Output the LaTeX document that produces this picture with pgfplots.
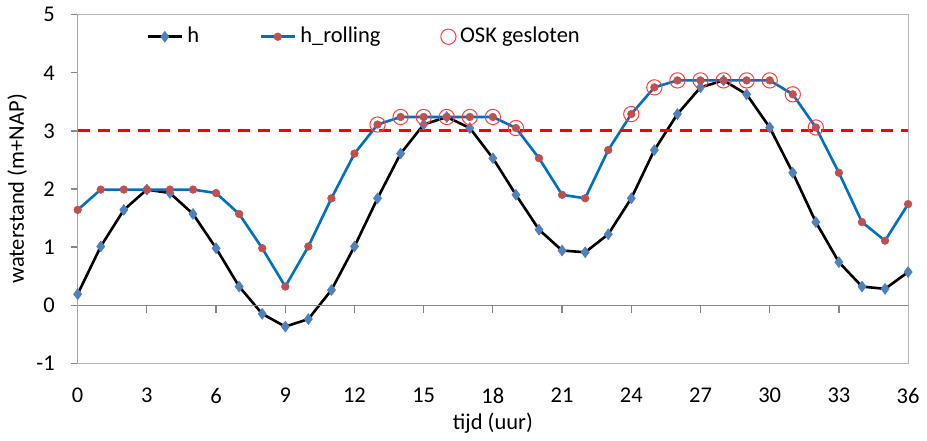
\documentclass[border=0pt]{standalone}
\usepackage{fontspec}
\setmainfont{Carlito}
\usepackage{pgfplots}
\pgfplotsset{compat=1.18}

\definecolor{hblue}{RGB}{79,129,189}
\definecolor{rollblue}{RGB}{0,112,192}
\definecolor{rollred}{RGB}{192,80,77}
\definecolor{oskred}{RGB}{255,60,60}
\definecolor{axgray}{RGB}{134,134,134}

\begin{document}
\fontsize{11.2}{13.5}\selectfont
\begin{tikzpicture}
  \begin{axis}[
    scale only axis,
    width=413.5pt,
    height=173.5pt,
    xmin=0, xmax=36,
    ymin=-1, ymax=5,
    xtick={0,3,...,36},
    ytick={-1,0,...,5},
    xtick style={draw=none},
    ytick pos=left,
    tick align=outside,
    major tick length=3.5pt,
    ytick style={axgray, line width=0.6pt},
    axis line style={axgray!60, line width=0.6pt},
    xticklabel style={yshift=-5pt},
    yticklabel style={xshift=-4pt},
    /pgf/number format/assume math mode=true,
    xlabel={tijd (uur)},
    ylabel={waterstand (m+NAP)},
    xlabel style={yshift=3pt},
    ylabel style={yshift=-3pt},
    legend columns=3,
    legend style={draw=none, fill=none, at={(0.075,0.937)}, anchor=west,
      /tikz/every even column/.append style={column sep=28pt}},
  ]

    % h
    \addplot[black, line width=1.3pt, mark=diamond*,
      mark options={hblue, fill=hblue, scale=1.35, line width=0.3pt}]
    coordinates {
      (0,0.19) (1,1.01) (2,1.64) (3,1.99) (4,1.93) (5,1.57) (6,0.98)
      (7,0.32) (8,-0.15) (9,-0.37) (10,-0.24) (11,0.26) (12,1.01)
      (13,1.84) (14,2.61) (15,3.11) (16,3.24) (17,3.05) (18,2.53)
      (19,1.90) (20,1.30) (21,0.94) (22,0.91) (23,1.22) (24,1.84)
      (25,2.67) (26,3.29) (27,3.75) (28,3.87) (29,3.63) (30,3.06)
      (31,2.28) (32,1.43) (33,0.74) (34,0.32) (35,0.28) (36,0.57)
    };
    \addlegendentry{h}

    % h_rolling
    \addplot[rollblue, line width=1.3pt, mark=*,
      mark options={rollred, fill=rollred, scale=0.95, line width=0.3pt}]
    coordinates {
      (0,1.64) (1,1.99) (2,1.99) (3,1.99) (4,1.99) (5,1.99) (6,1.93)
      (7,1.57) (8,0.98) (9,0.32) (10,1.01) (11,1.84) (12,2.61)
      (13,3.11) (14,3.24) (15,3.24) (16,3.24) (17,3.24) (18,3.24)
      (19,3.05) (20,2.53) (21,1.90) (22,1.84) (23,2.67) (24,3.29)
      (25,3.75) (26,3.87) (27,3.87) (28,3.87) (29,3.87) (30,3.87)
      (31,3.63) (32,3.06) (33,2.28) (34,1.43) (35,1.11) (36,1.74)
    };
    \addlegendentry{h\_rolling}

    % OSK gesloten
    \addplot[only marks, mark=o, mark options={oskred, scale=1.9, line width=0.5pt}]
    coordinates {
      (13,3.11) (14,3.24) (15,3.24) (16,3.24) (17,3.24) (18,3.24) (19,3.05)
      (24,3.29) (25,3.75) (26,3.87) (27,3.87) (28,3.87) (29,3.87) (30,3.87)
      (31,3.63) (32,3.06)
    };
    \addlegendentry{OSK gesloten}

    % drempel
    \addplot[red, line width=1.5pt, dash pattern=on 6pt off 4pt, forget plot]
    coordinates {(0,3) (36,3)};

    % nul-as met streepjes
    \draw[axgray, line width=0.6pt] (axis cs:0,0) -- (axis cs:36,0);
    \pgfplotsinvokeforeach{3,6,...,33}{
      \draw[axgray, line width=0.6pt] (axis cs:#1,0) -- ([yshift=-4pt]axis cs:#1,0);
    }
    \draw[axgray, line width=0.6pt] (axis cs:0,-1) -- (axis cs:0,5);
  \end{axis}
\end{tikzpicture}
\end{document}
